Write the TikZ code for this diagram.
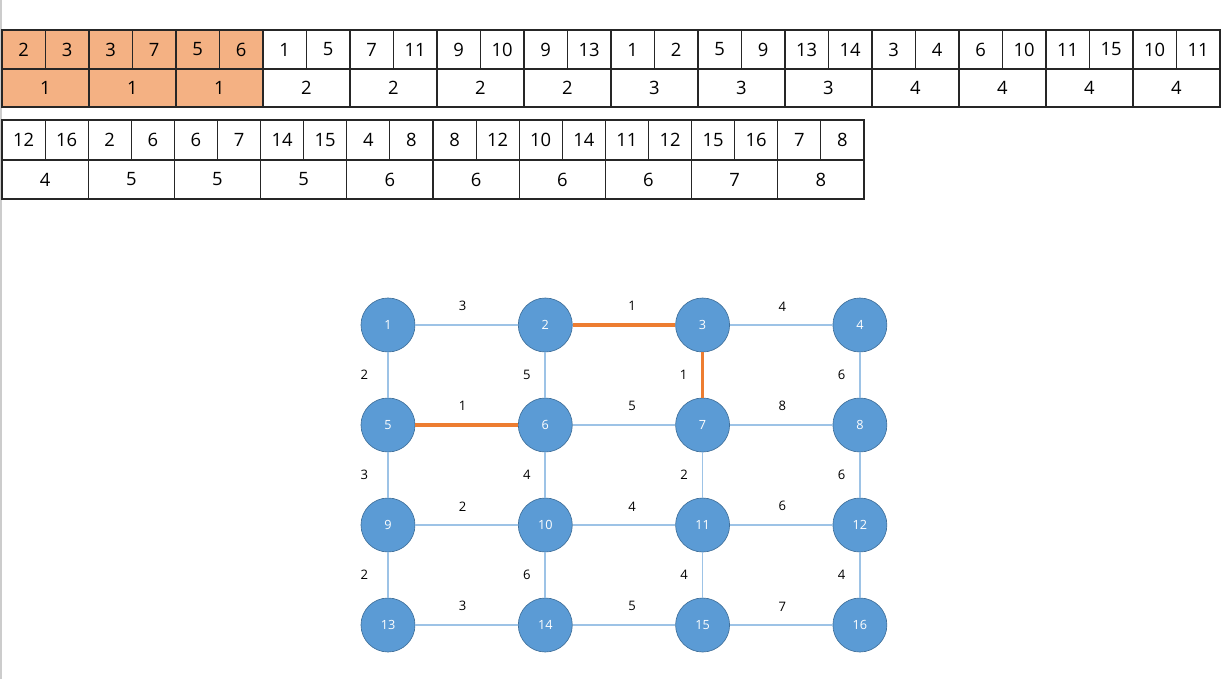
\documentclass[tikz,border=0pt]{standalone}
\usepackage{fontspec}
\setmainfont{Open Sans}
\usetikzlibrary{positioning}
\definecolor{vtxblue}{HTML}{5B9BD5}
\definecolor{vtxline}{HTML}{41719C}
\definecolor{linkblue}{HTML}{9DC3E6}
\definecolor{mstorange}{HTML}{ED7D31}
\definecolor{picked}{HTML}{F4B183}

\begin{document}
\begin{tikzpicture}[
    x=0.75pt, y=-0.75pt,
    cell/.style={draw=black!85, line width=0.8pt, anchor=north west, inner sep=0pt, outer sep=0pt, font=\fontsize{13.8}{15}\selectfont},
    vtx/.style={circle, draw=vtxline, line width=0.5pt, fill=vtxblue, minimum size=40.5pt, inner sep=0pt, text=white, font=\fontsize{9.5}{11}\selectfont},
    link/.style={draw=linkblue, line width=1.3pt},
    mstlink/.style={draw=mstorange, line width=2.3pt},
    wt/.style={font=\fontsize{9.8}{11}\selectfont}
]
\useasboundingbox (0,0) rectangle (1229,679);
\draw[black!20, line width=1.2pt] (1,0) -- (1,679);

% sorted edge list, first row
\foreach \a/\b/\w/\c [count=\i] in {2/3/1/picked, 3/7/1/picked, 5/6/1/picked, 1/5/2/white, 7/11/2/white,
    9/10/2/white, 9/13/2/white, 1/2/3/white, 5/9/3/white, 13/14/3/white, 3/4/4/white, 6/10/4/white,
    11/15/4/white, 10/11/4/white}
{
  \pgfmathsetmacro\x{2+87*(\i-1)}
  \node[cell, fill=\c, minimum width=32.6pt, minimum height=29.25pt] (ea\i) at (\x,30) {\a};
  \node[cell, fill=\c, minimum width=32.6pt, minimum height=29.25pt] (eb\i) at ({\x+43.5},30) {\b};
  \node[cell, fill=\c, minimum width=65.25pt, minimum height=28.5pt] (ew\i) at (\x,69) {\w};
}

% second row
\foreach \a/\b/\w [count=\i] in {12/16/4, 2/6/5, 6/7/5, 14/15/5, 4/8/6, 8/12/6, 10/14/6, 11/12/6, 15/16/7, 7/8/8}
{
  \pgfmathsetmacro\x{2+86.2*(\i-1)}
  \node[cell, minimum width=32.3pt, minimum height=30pt] (fa\i) at (\x,120) {\a};
  \node[cell, minimum width=32.3pt, minimum height=30pt] (fb\i) at ({\x+43.1},120) {\b};
  \node[cell, minimum width=64.65pt, minimum height=29.25pt] (fw\i) at (\x,160) {\w};
}

% grid graph
\foreach \r in {0,...,3}
  \foreach \c in {0,...,3}
  {
    \pgfmathtruncatemacro\n{4*\r+\c+1}
    \node[vtx] (n\n) at ({388+157.3*\c},{325+100*\r}) {\n};
  }

\foreach \s/\t/\w/\p/\k in {1/2/3/0.46/link, 2/3/1/0.58/mstlink, 3/4/4/0.51/link,
    5/6/1/0.46/mstlink, 6/7/5/0.58/link, 7/8/8/0.51/link,
    9/10/2/0.46/link, 10/11/4/0.58/link, 11/12/6/0.51/link,
    13/14/3/0.46/link, 14/15/5/0.58/link, 15/16/7/0.51/link}
  \draw[\k] (n\s) -- node[wt, above=6.5pt, pos=\p]{\w} (n\t);

\foreach \s/\t/\w/\d/\k in {1/5/2/11pt/link, 2/6/5/7pt/link, 3/7/1/7pt/mstlink, 4/8/6/7pt/link,
    5/9/3/11pt/link, 6/10/4/7pt/link, 7/11/2/7pt/link, 8/12/6/7pt/link,
    9/13/2/11pt/link, 10/14/6/7pt/link, 11/15/4/7pt/link, 12/16/4/7pt/link}
  \draw[\k] (n\s) -- node[wt, left=\d]{\w} (n\t);
\end{tikzpicture}
\end{document}
